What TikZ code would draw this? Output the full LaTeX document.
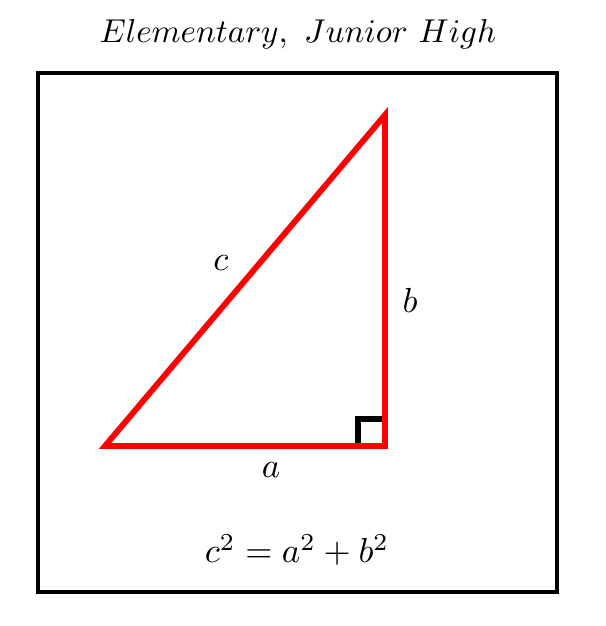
\documentclass[tikz,border=0pt]{standalone}
\usetikzlibrary{positioning}
\begin{document}
\begin{tikzpicture}[x=0.273pt,y=0.273pt,leg/.style={red,line width=1.6pt,line join=miter},lbl/.style={inner sep=0pt,scale=0.95}]
\useasboundingbox (0,0) rectangle (606,626);
\draw[line width=1pt] (38,34) rectangle (557,553);
\node[lbl,scale=0.95] (title) at (298,592) {$Elementary,\ Junior\ High$};
\coordinate (A) at (105,180);
\coordinate (B) at (385,180);
\coordinate (C) at (385,511);
\coordinate (M) at (358,207);
\draw[line width=1.6pt] (B -| M) |- (M -| B);
\draw[leg] (A) -- (B) -- (C) -- cycle;
\node[lbl] (c) at (221,363) {$c$};
\node[lbl] (b) at (410,326) {$b$};
\node[lbl] (a) at (271,156) {$a$};
\node[lbl] (eq) at (297,76) {$c^2=a^2+b^2$};
\end{tikzpicture}
\end{document}
